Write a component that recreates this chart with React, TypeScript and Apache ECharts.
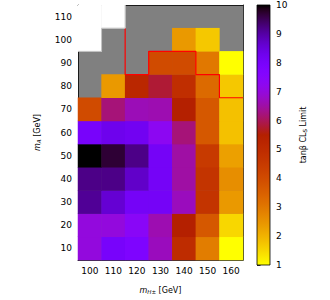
import React, { useEffect, useRef } from "react";
import * as echarts from "echarts";

const mHpm = [100, 110, 120, 130, 140, 150, 160];
const mA = [10, 20, 30, 40, 50, 60, 70, 80, 90, 100, 110];
// rows indexed by mA (10 ... 110), columns by mH± (100 ... 160); null = excluded (grey)
const tanbLimit: (number | null)[][] = [
  [7.0, 8.0, 7.8, 6.7, 5.0, 2.9, 1.0],
  [7.0, 7.0, 7.4, 6.6, 5.5, 3.7, 1.5],
  [9.1, 8.6, 8.1, 8.1, 6.7, 4.7, 2.4],
  [9.2, 9.2, 8.7, 8.1, 6.5, 4.7, 2.6],
  [10.0, 9.7, 9.2, 8.1, 6.5, 4.5, 2.3],
  [8.0, 8.3, 8.2, 7.3, 6.2, 3.7, 1.8],
  [4.0, 6.2, 6.65, 6.6, 5.5, 3.7, 1.8],
  [null, 2.4, 5.2, 5.8, 4.9, 3.3, 1.7],
  [null, null, null, 4.0, 4.0, 3.0, 1.0],
  [null, null, null, null, 2.4, 1.7, null],
  [null, null, null, null, null, null, null],
];
const whiteCells = [
  [100, 110],
  [110, 110],
  [100, 100],
];
const redContour = [
  [115, 105], [115, 85], [125, 85], [125, 95], [145, 95],
  [145, 85], [155, 85], [155, 75], [165, 75],
];
const whiteOutline = [
  [95, 95], [105, 95], [105, 105], [115, 105], [115, 115],
];
const cbarTicks = [1, 2, 3, 4, 5, 6, 7, 8, 9, 10];
const vMin = 1;
const vMax = 10;

function gnuplotR(s: number): string {
  const u = 1 - s;
  const r = Math.sqrt(u);
  const g = u * u * u;
  const b = Math.max(0, Math.sin(2 * Math.PI * u));
  const c = (x: number) => Math.round(Math.min(1, Math.max(0, x)) * 255);
  return `rgb(${c(r)},${c(g)},${c(b)})`;
}

const N = 64;
const cmapColors: string[] = [];
for (let i = 0; i <= N; i++) cmapColors.push(gnuplotR(i / N));

const FONT = "DejaVu Sans";

export default function App() {
  const ref = useRef<HTMLDivElement>(null);
  useEffect(() => {
    if (!ref.current) return;
    const chart = echarts.init(ref.current, null, { renderer: "svg" });

    const heatData: any[] = [];
    tanbLimit.forEach((row, yi) =>
      row.forEach((v, xi) => {
        if (v !== null) heatData.push([xi, yi, v]);
      })
    );
    const whiteData = whiteCells.map(([x, y]) => [mHpm.indexOf(x), mA.indexOf(y), 0]);

    // offset 0 = top (value 10, black), offset 1 = bottom (value 1, yellow)
    const gradStops = cmapColors.map((c, i) => ({ offset: 1 - i / N, color: c })).reverse();

    const axisTextStyle = { fontFamily: FONT, fontSize: 9, color: "#000" };

    chart.setOption({
      animation: false,
      textStyle: { fontFamily: FONT },
      grid: [
        { left: 78, top: 5, width: 165, height: 260, show: true, backgroundColor: "#808080", borderWidth: 0 },
        { left: 257, top: 5, width: 13, height: 260 },
      ],
      xAxis: [
        {
          type: "category",
          gridIndex: 0,
          data: mHpm.map(String),
          position: "bottom",
          axisLine: { lineStyle: { color: "#000", width: 0.8 } },
          axisTick: { alignWithLabel: true, length: 3.5, lineStyle: { color: "#000", width: 0.8 } },
          axisLabel: { ...axisTextStyle, margin: 6 },
          splitLine: { show: false },
          name: "{i|m}{s|H±} [GeV]",
          nameLocation: "middle",
          nameGap: 25,
          nameTextStyle: {
            fontFamily: FONT,
            fontSize: 8,
            color: "#000",
            rich: {
              i: { fontFamily: FONT, fontSize: 8, fontStyle: "italic", color: "#000" },
              s: { fontFamily: FONT, fontSize: 5.5, fontStyle: "italic", color: "#000", padding: [4, 0, 0, 0] },
            },
          },
        },
        {
          type: "value",
          gridIndex: 0,
          min: 95,
          max: 165,
          position: "top",
          axisLine: { show: true, onZero: false, lineStyle: { color: "#000", width: 0.8 } },
          axisTick: { show: false },
          axisLabel: { show: false },
          splitLine: { show: false },
        },
        { type: "value", gridIndex: 1, min: 0, max: 1, show: false },
      ],
      yAxis: [
        {
          type: "category",
          gridIndex: 0,
          data: mA.map(String),
          axisLine: { lineStyle: { color: "#000", width: 0.8 } },
          axisTick: { alignWithLabel: true, length: 3.5, lineStyle: { color: "#000", width: 0.8 } },
          axisLabel: { ...axisTextStyle, margin: 6, interval: 0 },
          splitLine: { show: false },
          name: "{i|m}{s|A} [GeV]",
          nameLocation: "middle",
          nameGap: 36,
          nameRotate: 90,
          nameTextStyle: {
            fontFamily: FONT,
            fontSize: 8,
            color: "#000",
            rich: {
              i: { fontFamily: FONT, fontSize: 8, fontStyle: "italic", color: "#000" },
              s: { fontFamily: FONT, fontSize: 5.5, fontStyle: "italic", color: "#000", padding: [4, 0, 0, 0] },
            },
          },
        },
        {
          type: "value",
          gridIndex: 0,
          min: 5,
          max: 115,
          position: "right",
          axisLine: { show: true, onZero: false, lineStyle: { color: "#000", width: 0.8 } },
          axisTick: { show: false },
          axisLabel: { show: false },
          splitLine: { show: false },
        },
        {
          type: "value",
          gridIndex: 1,
          min: vMin,
          max: vMax,
          interval: 1,
          position: "right",
          axisLine: { show: false },
          axisTick: { show: true, length: 3.5, lineStyle: { color: "#000", width: 0.8 } },
          axisLabel: {
            ...axisTextStyle,
            margin: 6,
            formatter: (v: number) => (cbarTicks.includes(v) ? String(v) : ""),
          },
          splitLine: { show: false },
          name: "tanβ CL{s|S} Limit",
          nameLocation: "middle",
          nameGap: 28,
          nameRotate: 90,
          nameTextStyle: {
            fontFamily: FONT,
            fontSize: 8,
            color: "#000",
            rich: {
              s: { fontFamily: FONT, fontSize: 5.5, color: "#000", padding: [4, 0, 0, 0] },
            },
          },
        },
      ],
      visualMap: [
        {
          type: "continuous",
          show: false,
          min: vMin,
          max: vMax,
          dimension: 2,
          seriesIndex: 0,
          inRange: { color: cmapColors },
        },
        {
          type: "continuous",
          show: false,
          min: -1,
          max: 1,
          dimension: 2,
          seriesIndex: 1,
          inRange: { color: ["#ffffff", "#ffffff"] },
        },
      ],
      series: [
        {
          type: "heatmap",
          xAxisIndex: 0,
          yAxisIndex: 0,
          data: heatData,
          itemStyle: { borderWidth: 0 },
        },
        {
          type: "heatmap",
          xAxisIndex: 0,
          yAxisIndex: 0,
          data: whiteData,
          itemStyle: { borderWidth: 0 },
        },
        {
          type: "line",
          xAxisIndex: 1,
          yAxisIndex: 1,
          data: redContour,
          symbol: "none",
          z: 5,
          lineStyle: { color: "#ff0000", width: 1.2 },
        },
        {
          type: "line",
          xAxisIndex: 1,
          yAxisIndex: 1,
          data: whiteOutline,
          symbol: "none",
          z: 5,
          lineStyle: { color: "#c0c0c0", width: 1 },
        },
        {
          type: "custom",
          xAxisIndex: 2,
          yAxisIndex: 2,
          data: [[0, vMin]],
          renderItem: (_p: any, api: any) => {
            const p0 = api.coord([0, vMax]);
            const p1 = api.coord([1, vMin]);
            return {
              type: "rect",
              shape: { x: p0[0], y: p0[1], width: p1[0] - p0[0], height: p1[1] - p0[1] },
              style: {
                fill: new echarts.graphic.LinearGradient(0, 0, 0, 1, gradStops),
                stroke: "#000",
                lineWidth: 0.8,
              },
            };
          },
        },
      ],
    });
    return () => chart.dispose();
  }, []);
  return <div ref={ref} style={{ position: "absolute", left: 0, top: 0, width: 330, height: 300 }} />;
}
